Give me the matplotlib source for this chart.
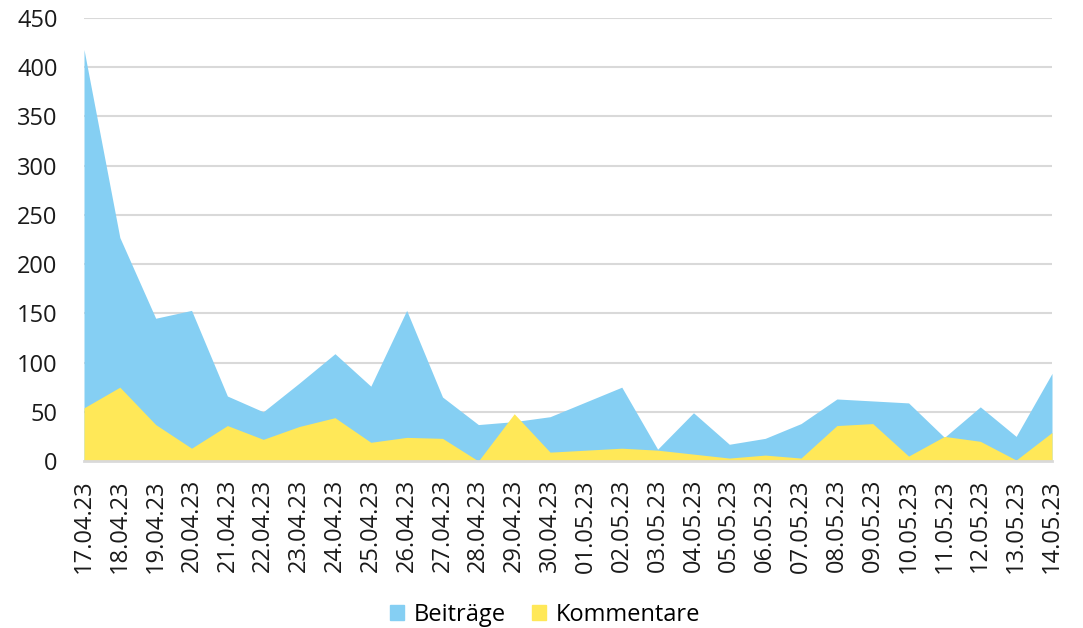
import numpy as np
import matplotlib
matplotlib.use("Agg")
import matplotlib.pyplot as plt
from matplotlib.patches import Patch

plt.rcParams['font.family'] = ['Open Sans', 'DejaVu Sans']

dates = ['17.04.23', '18.04.23', '19.04.23', '20.04.23', '21.04.23', '22.04.23',
         '23.04.23', '24.04.23', '25.04.23', '26.04.23', '27.04.23', '28.04.23',
         '29.04.23', '30.04.23', '01.05.23', '02.05.23', '03.05.23', '04.05.23',
         '05.05.23', '06.05.23', '07.05.23', '08.05.23', '09.05.23', '10.05.23',
         '11.05.23', '12.05.23', '13.05.23', '14.05.23']
beitraege = [418, 227, 145, 153, 66, 50, 79, 109, 76, 153, 65, 37,
             40, 45, 60, 75, 12, 49, 17, 23, 38, 63, 61, 59, 24, 55, 25, 89]
kommentare = [54, 75, 37, 13, 36, 22, 35, 44, 19, 24, 23, 0,
              48, 9, 11, 13, 11, 7, 3, 6, 3, 36, 38, 5, 25, 20, 1, 29]

blue = '#85CFF3'
yellow = '#FFE858'
grid_col = '#D9D9D9'

x = np.arange(len(dates))

fig = plt.figure(figsize=(10.83, 6.28), dpi=100)
ax = fig.add_axes([84/1083, 1 - 461/628, (1052-84)/1083, (461-18)/628])

ax.fill_between(x, 0, beitraege, color=blue, linewidth=0, zorder=2)
ax.fill_between(x, 0, kommentare, color=yellow, linewidth=0, zorder=3)

ax.set_xlim(0, len(dates) - 1)
ax.set_ylim(0, 450)
ax.set_yticks(np.arange(0, 451, 50))
ax.set_xticks(x)
ax.set_xticklabels(dates, rotation=90)
ax.yaxis.grid(True, color=grid_col, linewidth=1.5, zorder=1)
ax.set_axisbelow(True)

for s in ['left', 'right', 'top']:
    ax.spines[s].set_visible(False)
ax.spines['bottom'].set_color(grid_col)
ax.spines['bottom'].set_linewidth(2)
ax.spines['bottom'].set_zorder(4)

ax.tick_params(axis='y', length=0, pad=19, labelsize=17, labelcolor='#1a1a1a')
ax.tick_params(axis='x', length=0, pad=13, labelsize=17, labelcolor='#1a1a1a')

# legend at the bottom
handles = [Patch(color=blue, label='Beiträge'), Patch(color=yellow, label='Kommentare')]
fig.legend(handles=handles, loc='center', bbox_to_anchor=(545/1083, 1 - 615/628),
           ncol=2, frameon=False, fontsize=17, handlelength=0.6, handleheight=0.6,
           handletextpad=0.4, columnspacing=1.1)

fig.savefig('out.png', dpi=100)
